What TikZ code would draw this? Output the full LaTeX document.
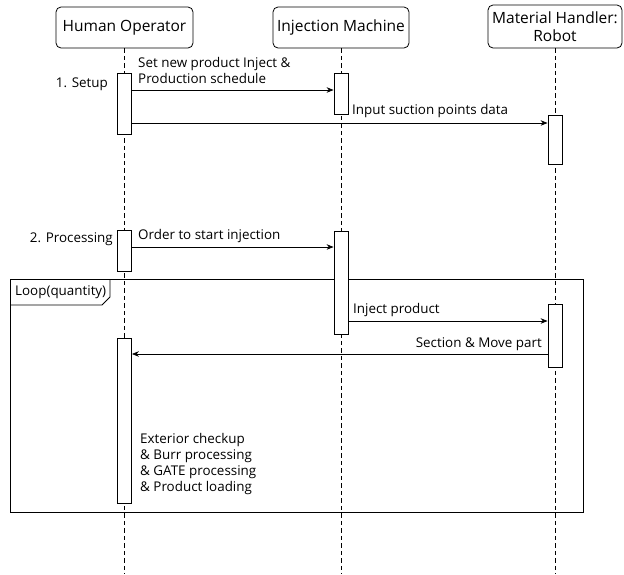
\documentclass[tikz,border=0pt]{standalone}
\usepackage{fontspec}
\setmainfont{Open Sans}
\usetikzlibrary{arrows.meta}
\begin{document}
\begin{tikzpicture}[x=1pt,y=-1pt,
  font=\fontsize{13.4}{16}\selectfont,
  head/.style={draw, rounded corners=5pt, line width=0.8pt, minimum height=41pt, inner sep=2pt, align=center, fill=white,
    font=\fontsize{15.5}{18}\selectfont},
  life/.style={dashed, dash pattern=on 4.5pt off 3pt, line width=0.8pt},
  act/.style={draw, fill=white, minimum width=14pt, inner sep=0pt, line width=0.8pt},
  msg/.style={-{Stealth[length=7pt,width=5.5pt]}, line width=0.8pt},
  lbl/.style={inner sep=0pt, anchor=base west, align=left},
  frame/.style={line width=0.9pt}
]
\useasboundingbox (0,0) rectangle (624,574);

% participants
\node[head, minimum width=137pt] (ho) at (124.5,27.5) {Human Operator};
\node[head, minimum width=136pt] (im) at (341,27.5) {Injection Machine};
\node[head, minimum width=134pt, minimum height=43pt] (rb) at (555,26.5) {Material Handler:\\Robot};

% lifelines
\coordinate (hoEnd) at (124.5,574);
\coordinate (imEnd) at (341,574);
\coordinate (rbEnd) at (555,574);
\draw[life] (ho.south) -- (hoEnd);
\draw[life] (im.south) -- (imEnd);
\draw[life] (rb.south) -- (rbEnd);

% loop frame
\draw[frame] (10,279) rectangle (583,512);
\node[lbl] (looplbl) at (15,295) {Loop(quantity)};
\draw[frame] (10,305) -- (102,305) -- (110,297) -- (110,279);

% activations
\node[act, minimum height=61pt] (hoA) at (124.5,103.5) {};
\node[act, minimum height=41pt] (imA) at (341,93.5) {};
\node[act, minimum height=49pt] (rbA) at (555,139.5) {};
\node[act, minimum height=41pt] (hoB) at (124.5,250.5) {};
\node[act, minimum height=103pt] (imB) at (341,282.5) {};
\node[act, minimum height=63pt] (rbB) at (555,335.5) {};
\node[act, minimum height=165pt] (hoC) at (124.5,420.5) {};

% phase labels
\node[anchor=base east, inner sep=0pt] (setup) at (108,87) {1. Setup};
\node[anchor=base east, inner sep=0pt] (proc) at (113,242) {2. Processing};

% messages
\draw[msg] (hoA.east |- 0,90) -- (imA.west |- 0,90);
\node[lbl] (m1) at (138,83) {Set new product Inject \&\\Production schedule};

\draw[msg] (hoA.east |- 0,123) -- (rbA.west |- 0,123);
\node[lbl] (m2) at (352,114) {Input suction points data};

\draw[msg] (hoB.east |- 0,247) -- (imB.west |- 0,247);
\node[lbl] (m3) at (138,239) {Order to start injection};

\draw[msg] (imB.east |- 0,321) -- (rbB.west |- 0,321);
\node[lbl] (m4) at (353,313) {Inject product};

\draw[msg] (rbB.west |- 0,354) -- (hoC.east |- 0,354);
\node[inner sep=0pt, anchor=base east] (m5) at (542,347) {Section \& Move part};

% note beside the operator's loop activation
\node[lbl] (note) at (140,491) {Exterior checkup\\\& Burr processing\\\& GATE processing\\\& Product loading};
\end{tikzpicture}
\end{document}
